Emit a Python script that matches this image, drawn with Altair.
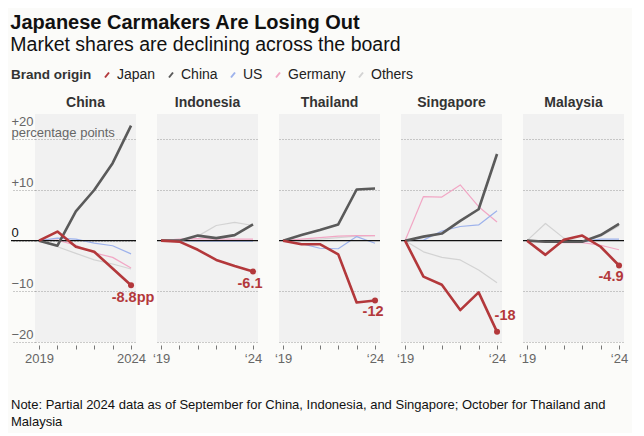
import altair as alt
import pandas as pd

years = [2019, 2020, 2021, 2022, 2023, 2024]
brands = ["Japan", "China", "US", "Germany", "Others"]
markets = ["China", "Indonesia", "Thailand", "Singapore", "Malaysia"]

china_mkt = {
    "Japan":   [0, 1.8, -1.2, -2.2, -5.5, -8.8],
    "China":   [0, -1.0, 5.8, 10.0, 15.3, 22.7],
    "US":      [0, 0.5, 0.3, -0.5, -1.0, -2.6],
    "Germany": [0, 0.1, -0.9, -2.4, -3.3, -5.4],
    "Others":  [0, -1.2, -2.5, -3.8, -4.6, -5.6],
}
indonesia_mkt = {
    "Japan":   [0, -0.2, -1.8, -3.8, -5.0, -6.1],
    "China":   [0, 0.0, 1.0, 0.5, 1.1, 3.2],
    "US":      [0, 0.0, -0.1, -0.1, -0.1, -0.1],
    "Germany": [0, 0.3, 0.4, 0.3, 0.3, 0.3],
    "Others":  [0, 0.1, 0.9, 3.0, 3.6, 3.0],
}
thailand_mkt = {
    "Japan":   [0, -0.7, -0.7, -2.7, -12.2, -11.8],
    "China":   [0, 1.1, 2.1, 3.2, 10.1, 10.3],
    "US":      [0, -0.6, -1.5, -1.6, 0.8, -0.5],
    "Germany": [0, 0.3, 0.6, 0.9, 1.0, 1.0],
    "Others":  [0, 0.1, 0.3, 0.6, 0.9, 1.0],
}
singapore_mkt = {
    "Japan":   [0, -7.1, -8.7, -13.7, -10.2, -18.0],
    "China":   [0, 0.8, 1.4, 3.9, 6.2, 17.1],
    "US":      [0, 0.1, 1.9, 2.8, 3.1, 5.9],
    "Germany": [0, 8.7, 8.6, 11.0, 6.7, 3.7],
    "Others":  [0, -2.2, -3.3, -3.8, -5.8, -8.3],
}
malaysia_mkt = {
    "Japan":   [0, -2.8, 0.2, 1.0, -1.2, -4.9],
    "China":   [0, -0.2, -0.2, -0.2, 1.1, 3.3],
    "US":      [0, 0.0, 0.0, -0.2, 0.3, 0.3],
    "Germany": [0, -0.3, -0.4, -0.4, -0.9, -1.8],
    "Others":  [0, 3.4, 0.5, -0.2, 0.9, 2.9],
}
end_labels = ["-8.8pp", "-6.1", "-12", "-18", "-4.9"]
note_lines = [
    "Note: Partial 2024 data as of September for China, Indonesia, and Singapore; October for Thailand and",
    "Malaysia",
]

market_data = dict(zip(markets, [china_mkt, indonesia_mkt, thailand_mkt, singapore_mkt, malaysia_mkt]))

rows = []
for m, series in market_data.items():
    for b in brands:
        for yr, v in zip(years, series[b]):
            rows.append({"market": m, "brand": b, "year": yr, "value": v})
df = pd.DataFrame(rows)

FONT = "Liberation Sans"
BG = "#fbfbf9"
BAND = "#f1f1f1"
W, H = 101, 228
colors = ["#b3383b", "#5a5a5a", "#9db2ec", "#f2a7c5", "#d3d3d3"]
widths = {"Japan": 2.6, "China": 2.6, "US": 1.2, "Germany": 1.2, "Others": 1.2}

color_enc = alt.Color(
    "brand:N",
    scale=alt.Scale(domain=brands, range=colors),
    legend=alt.Legend(
        title="Brand origin",
        orient="none",
        legendX=-24,
        legendY=-46,
        direction="horizontal",
        titleOrient="left",
        titleFontSize=13.5,
        titleFontWeight="bold",
        titleColor="#333",
        titlePadding=8,
        labelFontSize=14,
        labelColor="#222",
        labelOffset=3,
        columnPadding=8,
        symbolType="M-0.4,0.5L0.4,-0.5",
        symbolStrokeWidth=2,
        symbolSize=100,
        titleBaseline="middle",
    ),
)

# per-panel label offsets (styling only)
label_dx = [2, -3, -2, 8, -8]
label_dy = [13, 12, 12, -16, 12]


def panel(i, m):
    d = df[df.market == m]
    first = i == 0
    if first:
        xlab = "(datum.value == 2019 || datum.value == 2024) ? '' + datum.value : ''"
        yaxis = alt.Axis(
            values=[-20, -10, 0, 10, 20], grid=True, gridDash=[1, 2], gridColor="#9a9a9a",
            ticks=True, tickSize=24, tickDash=[1, 2], tickColor="#9a9a9a", domain=False,
            labelAlign="left", labelBaseline="bottom", labelPadding=0,
            labelOffset={"condition": {"test": "datum.value == 20", "value": -11}, "value": -1},
            labelExpr="datum.value == 20 ? ['+20', 'percentage points'] : datum.value > 0 ? '+' + datum.value : datum.value < 0 ? '\u2212' + abs(datum.value) : '0'",
            labelFontSize=13,
            labelColor={"condition": {"test": "datum.value == 0", "value": "#111"}, "value": "#666"},
            labelFont=FONT, labelOverlap=False,
            labelFlush=False, labelLineHeight=11, labelLimit=300, title=None,
        )
    else:
        xlab = "datum.value == 2019 ? '\u201819' : datum.value == 2024 ? '\u201824' : ''"
        yaxis = alt.Axis(
            values=[-20, -10, 10, 20], grid=True, gridDash=[1, 2], gridColor="#9a9a9a",
            ticks=False, labels=False, domain=False, title=None,
        )
    x = alt.X(
        "year:Q",
        scale=alt.Scale(domain=[2018.78, 2024.27], nice=False, zero=False),
        axis=alt.Axis(
            values=years, labelExpr=xlab, domain=False, ticks=True, tickSize=4,
            tickColor="#777", offset=3, grid=False, labelFontSize=13, labelColor="#666",
            labelFont=FONT, labelPadding=3, labelOverlap=False, labelFlush=False, title=None,
        ),
    )
    y = alt.Y("value:Q", scale=alt.Scale(domain=[-20, 25], nice=False, zero=False), axis=yaxis)

    base = alt.Chart(d)
    one = base.transform_filter((alt.datum.brand == "Japan") & (alt.datum.year == 2019))
    layers = [base.mark_line(opacity=0).encode(x=x, y=y)]
    zero = one.mark_rule(color="#111", strokeWidth=1.4).encode(
        y=alt.datum(0), x=alt.value(-24 if first else 0), x2=alt.value(W)
    )
    for b in ["Others", "Germany", "US"]:
        layers.append(
            base.transform_filter(alt.datum.brand == b)
            .mark_line(strokeWidth=widths[b], strokeJoin="round")
            .encode(x=x, y=y, color=color_enc)
        )
    layers.append(zero)
    for b in ["China", "Japan"]:
        layers.append(
            base.transform_filter(alt.datum.brand == b)
            .mark_line(strokeWidth=widths[b], strokeJoin="round")
            .encode(x=x, y=y, color=color_enc)
        )
    endp = base.transform_filter((alt.datum.brand == "Japan") & (alt.datum.year == 2024))
    layers.append(endp.mark_circle(size=36, opacity=1, color=colors[0]).encode(x=x, y=y))
    layers.append(
        endp.mark_text(
            color=colors[0], fontSize=14.5, fontWeight="bold", font=FONT, align="center",
            baseline="middle", dx=label_dx[i], dy=label_dy[i],
        ).encode(x=x, y=y, text=alt.value(end_labels[i]))
    )
    if first:
        layers.append(
            one.mark_text(
                align="left", baseline="alphabetic", fontSize=13, font=FONT, color="#111",
                lineHeight=17,
            ).encode(x=alt.value(-24), y=alt.value(H + 67), text=alt.value(note_lines))
        )
    return alt.layer(*layers).properties(
        width=W, height=H,
        title=alt.TitleParams(
            m, fontSize=14, fontWeight="bold", color="#333", font=FONT, anchor="middle",
            frame="group", offset=4,
        ),
    )


chart = alt.hconcat(*[panel(i, m) for i, m in enumerate(markets)], spacing=21, bounds="flush").properties(
    title=alt.TitleParams(
        "Japanese Carmakers Are Losing Out",
        subtitle="Market shares are declining across the board",
        anchor="start", fontSize=20, fontWeight="bold", color="#111", font=FONT,
        subtitleFontSize=19.5, subtitleColor="#111", subtitleFont=FONT, subtitlePadding=3,
        offset=14,
    ),
    padding={"left": 2, "top": 4, "right": 4, "bottom": 4},
    background=BG,
).configure_view(stroke=None, fill=BAND)

chart.save("out.html", embed_options={"renderer": "svg", "actions": False})
